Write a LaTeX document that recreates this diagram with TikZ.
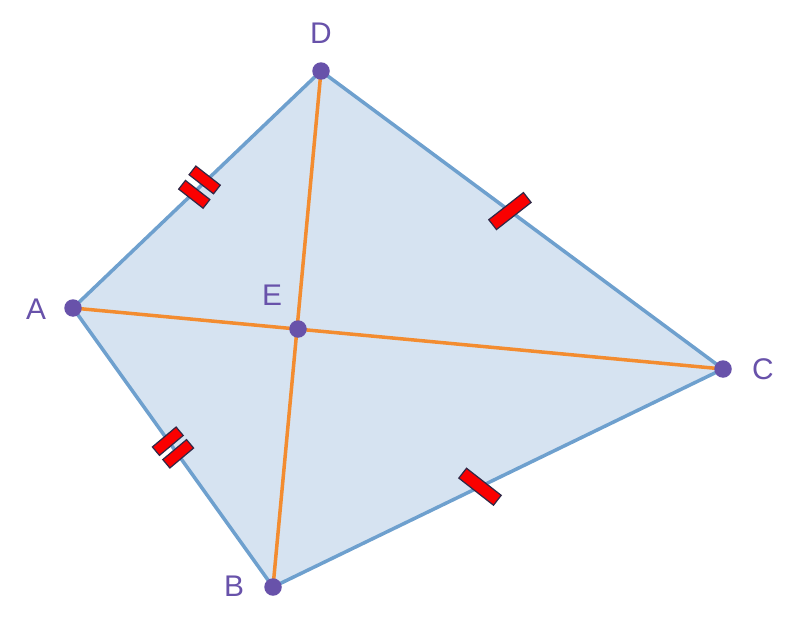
\documentclass[tikz,border=0pt]{standalone}
\usepackage{fontspec}
\setmainfont{Liberation Sans}
\usepackage{tikz}
\usetikzlibrary{calc,backgrounds}
\definecolor{edgeblue}{RGB}{110,160,206}
\definecolor{fillblue}{RGB}{214,227,241}
\definecolor{diagorange}{RGB}{243,140,48}
\definecolor{ptpurple}{RGB}{104,82,170}
\definecolor{tickred}{RGB}{250,0,0}
\definecolor{tickline}{RGB}{50,40,70}
\tikzset{
	%Define style for points
	punkt/.style={
		circle,
		fill=ptpurple,
		inner sep=0pt,
		minimum size=0.35cm},
	%Define style for labels
	mylabel/.style={text=ptpurple, font=\fontsize{17}{20}\selectfont},
	% Define line styles
	side/.style={draw=edgeblue, fill=fillblue, line width=2pt, line join=round},
	diag/.style={draw=diagorange, line width=2pt},
	% Define style for tick marks
	tickbox/.style={
		rectangle,
		draw=tickline, fill=tickred,
		line width=0.7pt,
		inner sep=0pt,
		minimum width=0.88cm,
		minimum height=0.25cm},
	dtickbox/.style={tickbox, minimum width=0.62cm, minimum height=0.22cm}
}
\begin{document}
\begin{tikzpicture}[x=0.02cm, y=-0.02cm]
		\useasboundingbox (0,0) rectangle (787,625);
		% points
		\node[punkt] (A) at (73,308) {};
		\node[punkt] (B) at (273,587) {};
		\node[punkt] (C) at (723,369) {};
		\node[punkt] (D) at (321,71) {};
		\node[punkt] (E) at (298,329) {};
		% labels
		\node[mylabel] (labA) at (36,309) {A};
		\node[mylabel] (labB) at (234,586) {B};
		\node[mylabel] (labC) at (763,369) {C};
		\node[mylabel] (labD) at (321,33) {D};
		\node[mylabel] (labE) at (272,295) {E};
		\begin{scope}[on background layer]
		% quadrilateral
		\draw[side] (A.center) -- (B.center) -- (C.center) -- (D.center) -- cycle;
		% diagonals
		\draw[diag] (A.center) -- (C.center);
		\draw[diag] (B.center) -- (D.center);
		% single ticks
		\node[tickbox, rotate=38] (tDC) at ($(D.center)!0.47!(C.center)$) {};
		\node[tickbox, rotate=-38] (tBC) at ($(B.center)!0.46!(C.center)$) {};
		% double ticks
		\node[dtickbox, rotate=-38] (tAD1) at ($(A.center)!0.51!(D.center)+(5.2,-7.2)$) {};
		\node[dtickbox, rotate=-38] (tAD2) at ($(A.center)!0.51!(D.center)+(-5.2,7.2)$) {};
		\node[dtickbox, rotate=40] (tAB1) at ($(A.center)!0.5!(B.center)+(-5.2,-6.3)$) {};
		\node[dtickbox, rotate=40] (tAB2) at ($(A.center)!0.5!(B.center)+(5.2,6.3)$) {};
		\end{scope}
\end{tikzpicture}
\end{document}
